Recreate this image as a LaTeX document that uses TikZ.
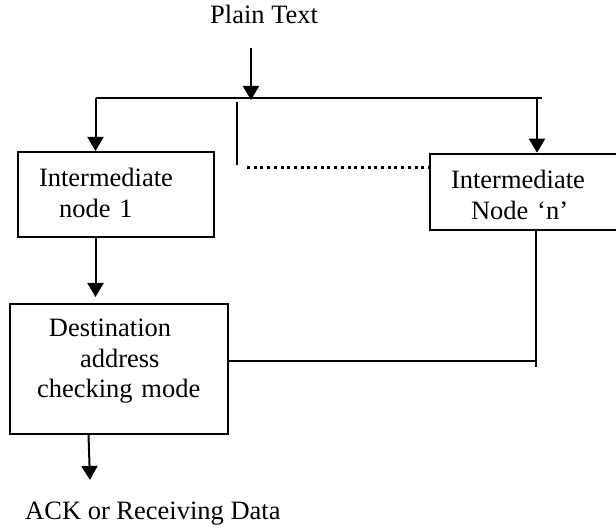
\documentclass[tikz,border=0pt]{standalone}
\usepackage{fontspec}
\setmainfont{Liberation Serif}
\usetikzlibrary{arrows.meta}

\tikzset{
  wire/.style={line width=2pt},
  arr/.style={wire, -{Triangle[length=14pt,width=16pt]}},
  dotline/.style={line width=3pt, dash pattern=on 3pt off 3.7pt},
  lbl/.style={inner sep=0pt, font=\fontsize{26.5}{30.5}\selectfont},
  boxnode/.style={draw, line width=2pt, inner sep=0pt, anchor=north west,
    align=left, font=\fontsize{26.5}{30.5}\selectfont},
}

\begin{document}
\begin{tikzpicture}[x=1pt, y=-1pt]
  \fill[white] (0,0) rectangle (616,529);
  \useasboundingbox (0,0) rectangle (616,529);
  \clip (0,0) rectangle (616,529);

  % labels at the two ends of the flow
  \node[lbl, anchor=base west] (pt) at (210,24) {Plain Text};
  \node[lbl, anchor=base west] (ack) at (25,519) {ACK or Receiving Data};

  % boxes
  \node[boxnode, text width=196pt, text height=35pt, text depth=50pt] (n1) at (17,151)
    {\hspace*{21pt}Intermediate\\\hspace*{41pt}node 1};
  \node[boxnode, text width=196pt, text height=35.3pt, text depth=41.3pt] (nn) at (429,152.7)
    {\hspace*{21pt}Intermediate\\\hspace*{41pt}Node ‘n’};
  \node[boxnode, text width=217.4pt, text height=33pt, text depth=96.7pt] (dest) at (9.3,303)
    {\hspace*{38.7pt}Destination\\\hspace*{69.7pt}address\\\hspace*{26.7pt}checking mode};

  % connector points
  \coordinate (ptin)  at (251,48);
  \coordinate (split) at (251,100);
  \coordinate (busL)  at (95.5,98);
  \coordinate (busR)  at (542,98);
  \coordinate (dropR) at (537,98);
  \coordinate (tickT) at (237,102);
  \coordinate (tickB) at (237,165);
  \coordinate (dotL)  at (247,167.5);
  \coordinate (joinB) at (535.7,366.7);
  \coordinate (joinH) at (535.7,360.7);
  \coordinate (outT)  at (88.5,0);
  \coordinate (outTip) at (90,480);

  % plain text onto the bus
  \draw[arr] (ptin) -- (split);
  \draw[wire] (busR) -- (busL);
  \draw[arr] (busL) -- (busL |- n1.north);
  \draw[arr] (dropR) -- (dropR |- nn.north);

  % tick and dotted run towards node n
  \draw[wire] (tickT) -- (tickB);
  \draw[dotline] (dotL) -- (dotL -| nn.west);

  % node 1 to the checking box
  \draw[arr, shorten >=6pt] (busL |- n1.south) -- (busL |- dest.north);

  % node n back to the checking box
  \draw[wire] (joinB |- nn.south) -- (joinB);
  \draw[wire] (dest.east |- joinH) -- (joinH);

  % output
  \draw[arr] (outT |- dest.south) -- (outTip);
\end{tikzpicture}
\end{document}
